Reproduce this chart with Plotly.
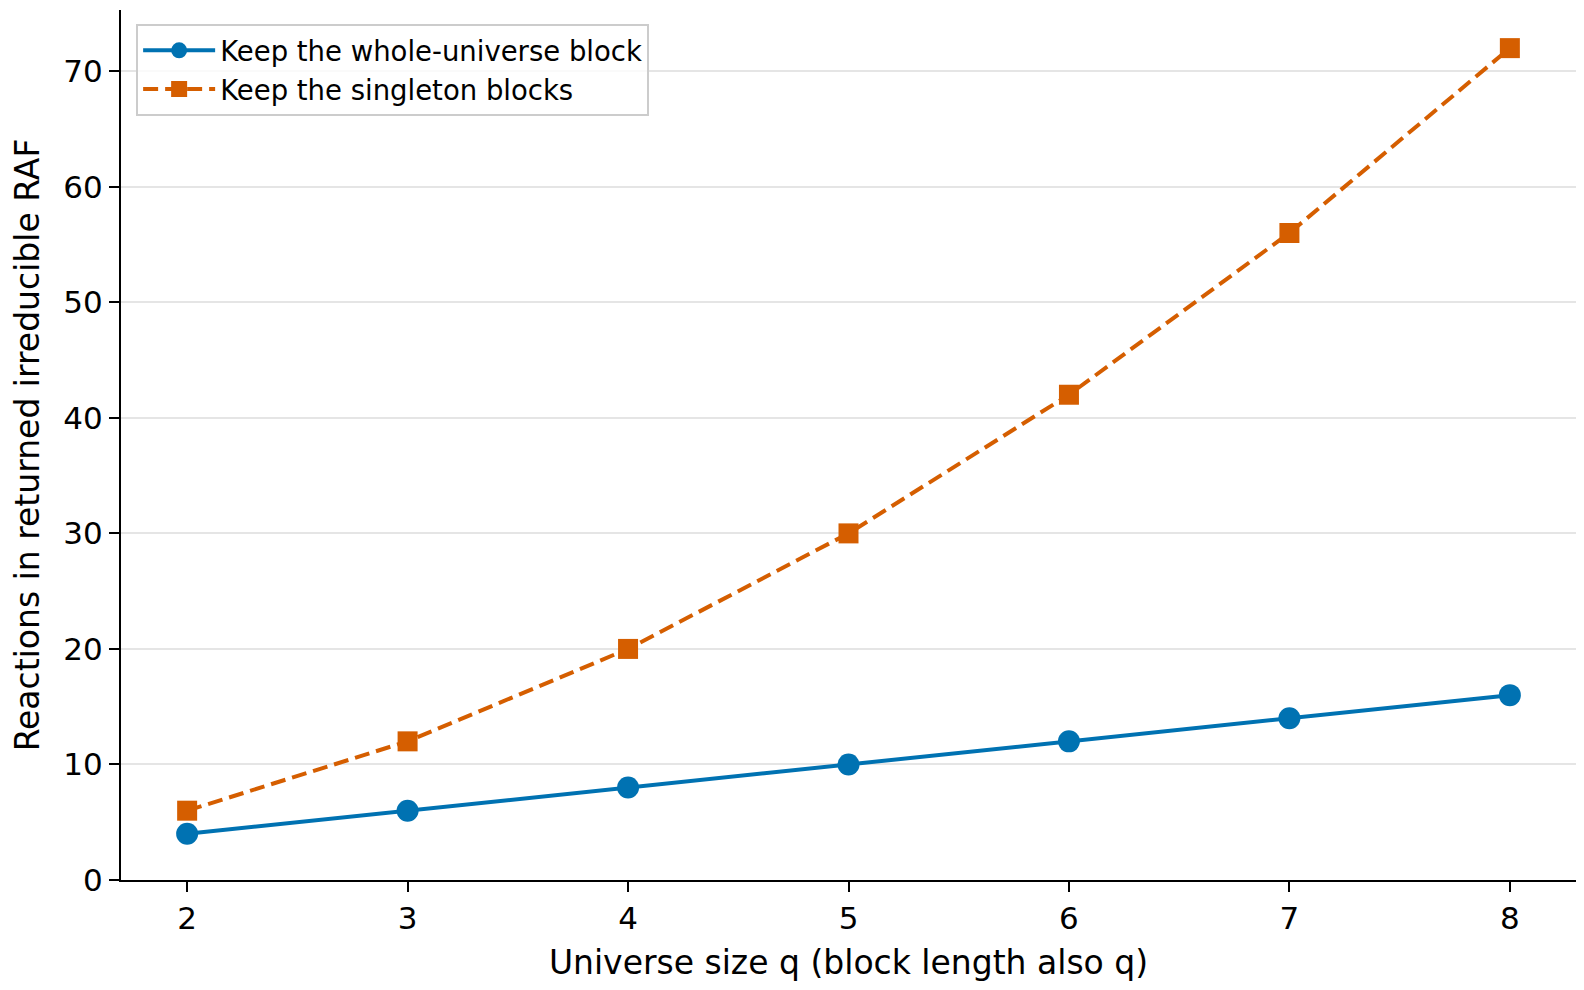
import plotly.graph_objects as go

q_values = [2, 3, 4, 5, 6, 7, 8]
whole_universe = [4, 6, 8, 10, 12, 14, 16]
singleton_blocks = [6, 12, 20, 30, 42, 56, 72]

BLUE = "#0072B2"
ORANGE = "#D55E00"

fig = go.Figure()
fig.add_trace(go.Scatter(
    x=q_values, y=whole_universe, mode="lines+markers",
    name="Keep the whole-universe block",
    line=dict(color=BLUE, width=4),
    marker=dict(symbol="circle", size=22, color=BLUE),
))
fig.add_trace(go.Scatter(
    x=q_values, y=singleton_blocks, mode="lines+markers",
    name="Keep the singleton blocks",
    line=dict(color=ORANGE, width=4, dash="15px,7px"),
    marker=dict(symbol="square", size=20, color=ORANGE),
))

fig.update_layout(
    width=1584, height=990,
    margin=dict(l=113, r=16, t=2, b=118),
    plot_bgcolor="white", paper_bgcolor="white",
    font=dict(family="DejaVu Sans", size=31, color="black"),
    legend=dict(
        x=0.0104, y=0.984, xanchor="left", yanchor="top",
        bgcolor="rgba(255,255,255,0.8)", bordercolor="#cccccc", borderwidth=2,
        font=dict(size=27.5), itemwidth=72,
    ),
)
fig.update_xaxes(
    range=[1.7, 8.3], tickvals=q_values,
    showline=True, linecolor="black", linewidth=2,
    ticks="outside", ticklen=10, tickwidth=2, tickcolor="black",
    showgrid=False, zeroline=False,
    title=dict(text="Universe size q (block length also q)", font=dict(size=33), standoff=16),
)
fig.update_yaxes(
    range=[0, 75.3], tickvals=[0, 10, 20, 30, 40, 50, 60, 70],
    showline=True, linecolor="black", linewidth=2,
    ticks="outside", ticklen=10, tickwidth=2, tickcolor="black",
    showgrid=True, gridcolor="#e5e5e5", gridwidth=1.5, zeroline=False,
    title=dict(text="Reactions in returned irreducible RAF", font=dict(size=33), standoff=18),
)

fig.write_html("out.html")
